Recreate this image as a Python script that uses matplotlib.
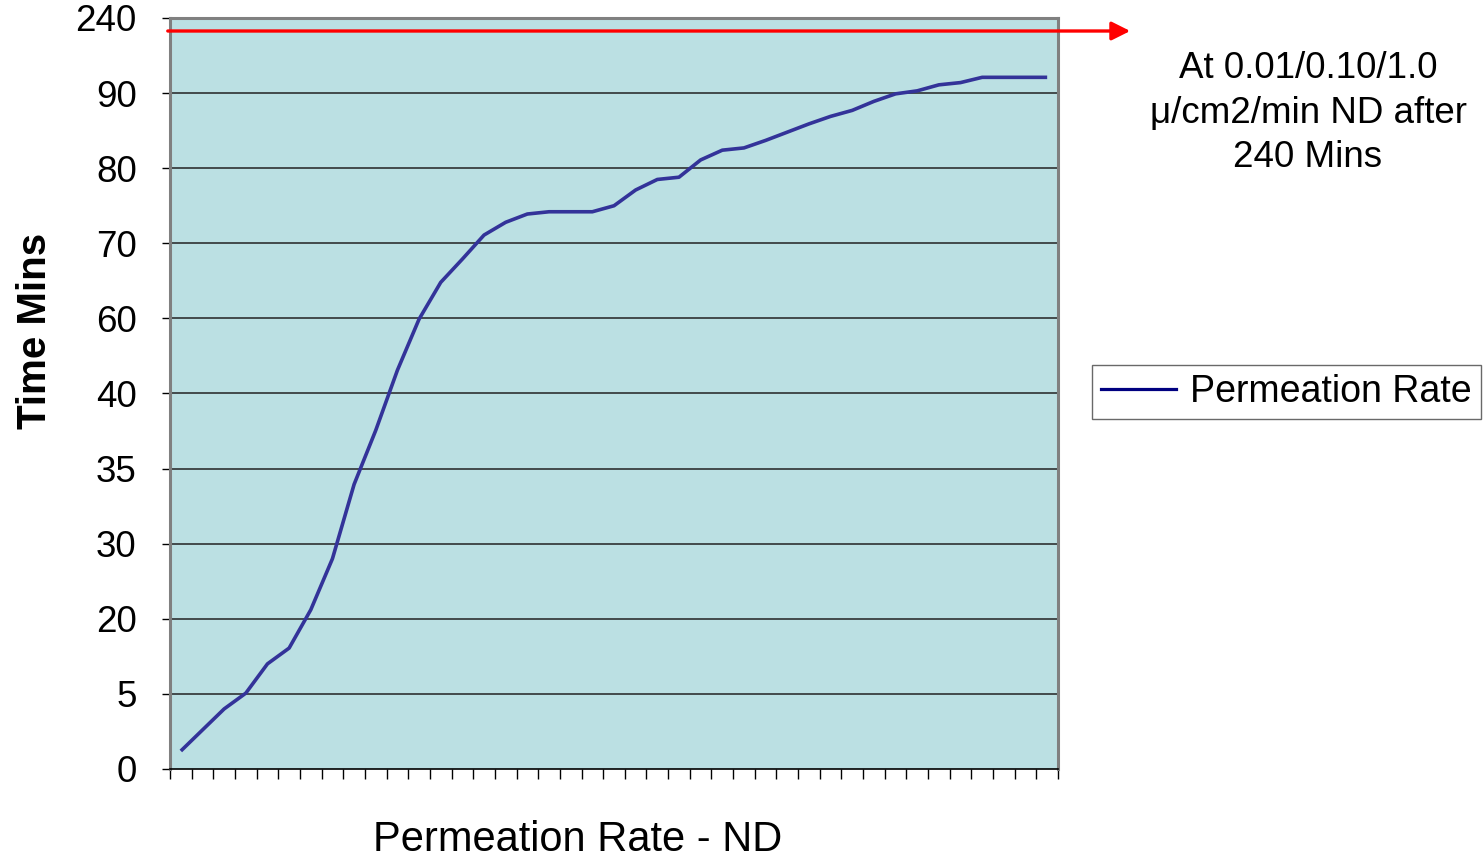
import matplotlib
matplotlib.use("Agg")
import matplotlib.pyplot as plt
from matplotlib.lines import Line2D

plt.rcParams['font.family'] = ['Liberation Sans', 'DejaVu Sans']

# y values are read as positions on the (evenly spaced) category scale below
ytick_labels = ['0', '5', '20', '30', '35', '40', '60', '70', '80', '90', '240']
rate_pos = [0.24, 0.52, 0.80, 1.01, 1.40, 1.61, 2.12, 2.80, 3.79, 4.51,
            5.31, 5.99, 6.48, 6.79, 7.11, 7.28, 7.39, 7.42, 7.42, 7.42,
            7.50, 7.71, 7.85, 7.88, 8.11, 8.24, 8.27, 8.37, 8.48, 8.59,
            8.69, 8.77, 8.89, 8.99, 9.03, 9.11, 9.14, 9.21, 9.21, 9.21, 9.21]
n_cat = len(rate_pos)
note = "At 0.01/0.10/1.0\nμ/cm2/min ND after\n240 Mins"

W, H = 1484, 859
fig = plt.figure(figsize=(W / 100, H / 100), dpi=100)
ax = fig.add_axes([170 / W, 1 - 769 / H, (1058 - 170) / W, (769 - 18) / H])
ax.set_facecolor('#BBE0E3')

xs = [i + 0.5 for i in range(n_cat)]
ax.plot(xs, rate_pos, color='#333399', lw=2.6, solid_capstyle='butt', zorder=3)

ax.set_xlim(0, n_cat)
ax.set_ylim(0, len(ytick_labels) - 1)
ax.set_xticks(range(n_cat + 1))
ax.set_xticklabels([])
ax.tick_params(axis='x', direction='out', length=7, width=1, color='black')
ax.set_yticks(range(len(ytick_labels)))
ax.set_yticklabels(ytick_labels, fontsize=26.5)
ax.tick_params(axis='y', direction='out', length=6, width=1, pad=18, color='black')
for v in range(1, len(ytick_labels) - 1):
    ax.axhline(v, color='#222222', lw=1.1, zorder=1)

for s in ['left', 'top', 'right']:
    ax.spines[s].set_color('#808080')
    ax.spines[s].set_linewidth(2.2)
ax.spines['bottom'].set_color('black')
ax.spines['bottom'].set_linewidth(1.2)

ax.set_ylabel('Time Mins', fontsize=29, fontweight='bold')
ax.yaxis.set_label_coords(-116 / 888, (769 - 331) / 751)
ax.set_xlabel('Permeation Rate - ND', fontsize=30)
ax.xaxis.set_label_coords((578 - 170) / 888, -(820 - 769) / 751)

# red arrow across the top
fig.add_artist(matplotlib.patches.FancyArrowPatch(
    (165 / W, 1 - 31 / H), (1133 / W, 1 - 31 / H), transform=fig.transFigure,
    arrowstyle='-|>', mutation_scale=28, color='#FF0000', lw=2.4))

fig.text(1308 / W, 1 - 113 / H, note, ha='center', va='center',
         multialignment='center', fontsize=26.5, linespacing=1.34)

handle = Line2D([], [], color='#000080', lw=2.3)
leg = fig.legend([handle], ['Permeation Rate'], loc='center left',
                 bbox_to_anchor=(1092 / W, 1 - 392 / H), fontsize=27,
                 frameon=True, fancybox=False, handlelength=2.0,
                 borderpad=0.25, handletextpad=0.35, borderaxespad=0)
leg.get_frame().set_edgecolor('#444444')
leg.get_frame().set_linewidth(1.0)

fig.savefig('out.png', dpi=100)
